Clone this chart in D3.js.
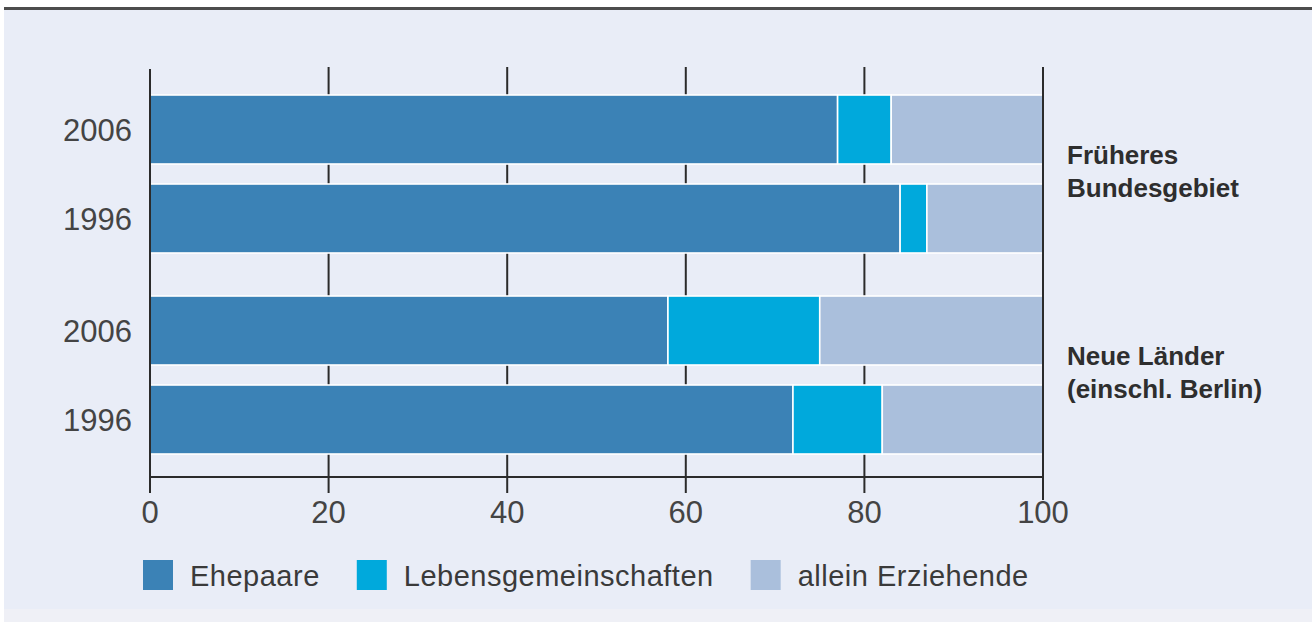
<!DOCTYPE html>
<html>
<head>
<meta charset="utf-8">
<script src="https://cdn.jsdelivr.net/npm/d3@7/dist/d3.min.js"></script>
<style>
  html, body { margin: 0; padding: 0; background: #fff; }
  svg { display: block; }
</style>
</head>
<body>
<svg id="chart" width="1312" height="622"></svg>
<script>
// ---- data ----
const REGIONS = ['Früheres Bundesgebiet', 'Neue Länder (einschl. Berlin)'];
const REGION_LINES = [['Früheres', 'Bundesgebiet'], ['Neue Länder', '(einschl. Berlin)']];
const YEARS = ['2006', '1996'];
const SERIES = ['Ehepaare', 'Lebensgemeinschaften', 'allein Erziehende'];
// one value per row: FB 2006, FB 1996, NL 2006, NL 1996
const EHEPAARE = [77, 84, 58, 72];
const LEBENSGEM = [6, 3, 17, 10];
const ALLEIN = [17, 13, 25, 18];
const X_TICKS = [0, 20, 40, 60, 80, 100];

const COLORS = ['#3b82b6', '#00a9dc', '#aabfdc'];

const svg = d3.select('#chart');
const W = 1312, H = 622;

// background panel
svg.append('rect').attr('width', W).attr('height', H).attr('fill', '#ffffff');
svg.append('rect').attr('x', 4).attr('y', 9).attr('width', W - 4).attr('height', 600).attr('fill', '#e9edf7');
svg.append('rect').attr('x', 4).attr('y', 609).attr('width', W - 4).attr('height', 13).attr('fill', '#eff0f6');
svg.append('line').attr('x1', 4).attr('x2', W).attr('y1', 8.5).attr('y2', 8.5)
  .attr('stroke', '#4d4d4d').attr('stroke-width', 3);

// rows
const rows = [];
REGIONS.forEach((r, gi) => {
  YEARS.forEach((yr, yi) => {
    const i = gi * 2 + yi;
    rows.push({ region: r, year: yr, Ehepaare: EHEPAARE[i], Lebensgemeinschaften: LEBENSGEM[i], 'allein Erziehende': ALLEIN[i] });
  });
});

// scales
const x = d3.scaleLinear().domain([0, 100]).range([150, 1043]);
const yGroup = d3.scaleBand().domain(REGIONS).range([95, 454]).paddingInner(0.214).paddingOuter(0);
const yYear = d3.scaleBand().domain(YEARS).range([0, yGroup.bandwidth()]).paddingInner(0.2247).paddingOuter(0);
const yPos = d => yGroup(d.region) + yYear(d.year);

const font = '"Liberation Sans", Arial, sans-serif';

// grid / tick lines (behind bars)
const grid = svg.append('g');
grid.selectAll('line').data(X_TICKS.filter(t => t > 0 && t < 100)).join('line')
  .attr('x1', d => x(d)).attr('x2', d => x(d))
  .attr('y1', 67).attr('y2', 493)
  .attr('stroke', '#2b2b2b').attr('stroke-width', 2);

// stacked bars
const stack = d3.stack().keys(SERIES)(rows);
const layers = svg.append('g').selectAll('g').data(stack).join('g')
  .attr('fill', (d, i) => COLORS[i]);
layers.selectAll('rect').data(d => d).join('rect')
  .attr('x', d => x(d[0]))
  .attr('width', d => x(d[1]) - x(d[0]))
  .attr('y', d => yPos(d.data))
  .attr('height', yYear.bandwidth())
  .attr('stroke', '#ffffff')
  .attr('stroke-width', 1.6);

// axes frame (drawn over bars)
const frame = svg.append('g').attr('stroke', '#2b2b2b').attr('stroke-width', 2);
frame.append('line').attr('x1', x(0)).attr('x2', x(0)).attr('y1', 69).attr('y2', 493);
frame.append('line').attr('x1', x(100)).attr('x2', x(100)).attr('y1', 67).attr('y2', 500);
frame.append('line').attr('x1', x(0)).attr('x2', x(100)).attr('y1', 477).attr('y2', 477);

// x tick labels
svg.append('g').selectAll('text').data(X_TICKS).join('text')
  .attr('x', d => x(d)).attr('y', 523)
  .attr('text-anchor', 'middle')
  .attr('font-family', font).attr('font-size', 31)
  .attr('fill', '#444')
  .text(d => d);

// year labels
svg.append('g').selectAll('text').data(rows).join('text')
  .attr('x', 132)
  .attr('y', d => yPos(d) + yYear.bandwidth() / 2)
  .attr('dy', '0.36em')
  .attr('text-anchor', 'end')
  .attr('font-family', font).attr('font-size', 31)
  .attr('fill', '#444')
  .text(d => d.year);

// region labels
const regionLabel = svg.append('g').selectAll('text').data(REGIONS).join('text')
  .attr('x', 1067)
  .attr('y', d => yGroup(d) + yGroup.bandwidth() / 2 - 10)
  .attr('font-family', font).attr('font-size', 26).attr('font-weight', 'bold')
  .attr('fill', '#2e2e2e');
regionLabel.selectAll('tspan').data((d, i) => REGION_LINES[i]).join('tspan')
  .attr('x', 1067)
  .attr('dy', (d, i) => i === 0 ? 0 : 33)
  .text(d => d);

// legend
const legend = svg.append('g');
let lx = 143;
SERIES.forEach((s, i) => {
  legend.append('rect').attr('x', lx).attr('y', 560).attr('width', 30).attr('height', 30).attr('fill', COLORS[i]);
  const t = legend.append('text')
    .attr('x', lx + 47).attr('y', 586)
    .attr('font-family', font).attr('font-size', 29)
    .attr('letter-spacing', 0.5)
    .attr('fill', '#3a3a3a')
    .text(s);
  lx += 47 + t.node().getComputedTextLength() + 37;
});
</script>
</body>
</html>
